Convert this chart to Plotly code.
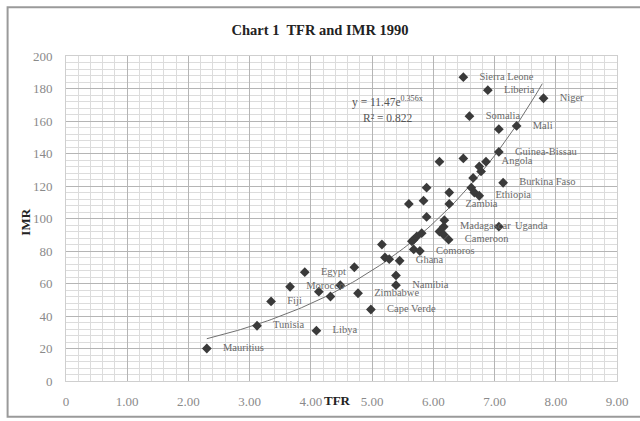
import numpy as np
import plotly.graph_objects as go

# Data (TFR, IMR)
tfr = [2.30, 3.12, 3.35, 3.66, 3.90, 4.13, 4.32, 4.48, 4.71, 4.77, 4.98, 4.09,
       5.16, 5.21, 5.28, 5.45, 5.39, 5.39, 5.68, 5.68, 5.78, 5.65, 5.73, 5.81,
       6.10, 6.25, 6.17, 6.18, 5.89, 5.60, 6.26, 5.84, 5.89, 6.26, 6.62, 6.67,
       6.75, 7.14, 6.65, 6.78, 6.75, 6.86, 6.10, 6.49, 7.07, 7.07, 7.36, 6.59,
       7.80, 6.89, 6.49, 7.07, 6.17]
imr = [20, 34, 49, 58, 67, 55, 52, 59, 70, 54, 44, 31,
       84, 76, 75, 74, 65, 59, 87, 81, 80, 86, 89, 91,
       92, 87, 95, 99, 101, 109, 109, 111, 119, 116, 119, 116,
       114, 122, 125, 129, 132, 135, 135, 137, 141, 155, 157, 163,
       174, 179, 187, 95, 90]
names = ["Mauritius", "Tunisia", "Fiji", "Morocco", "Egypt", "", "", "", "", "Zimbabwe", "Cape Verde", "Libya",
         "", "", "", "Ghana", "", "Namibia", "", "", "Comoros", "", "", "",
         "", "Cameroon", "Madagascar", "", "", "", "Zambia", "", "", "", "", "",
         "Ethiopia", "Burkina Faso", "", "", "", "Angola", "", "", "Guinea-Bissau", "", "Mali", "Somalia",
         "Niger", "Liberia", "Sierra Leone", "Uganda", ""]

# Exponential trendline as printed on the chart
trend_a = 11.47
trend_b = 0.356
trend_r2 = 0.822

x_ticks = [0, 1, 2, 3, 4, 5, 6, 7, 8, 9]
x_tick_text = ["0", "1.00", "2.00", "3.00", "4.00", "5.00", "6.00", "7.00", "8.00", "9.00"]
y_ticks = list(range(0, 201, 20))

serif = "Liberation Serif, Times New Roman, serif"

fig = go.Figure()

tx = np.linspace(min(tfr), 7.78, 100)
fig.add_trace(go.Scatter(x=tx, y=trend_a * np.exp(trend_b * tx), mode="lines",
                         line=dict(color="#707070", width=1), hoverinfo="skip",
                         showlegend=False))

fig.add_trace(go.Scatter(
    x=tfr, y=imr, mode="markers+text",
    text=["    " + n if n else "" for n in names],
    textposition="middle right",
    textfont=dict(family=serif, size=10.5, color="#6a6a6a"),
    marker=dict(symbol="diamond", size=7.5, color="#3a3a3a"),
    showlegend=False))

fig.add_annotation(x=5.25, y=172, xref="x", yref="y", showarrow=False,
                   text=f"y = {trend_a}e<sup>{trend_b}x</sup>",
                   font=dict(family=serif, size=11.5, color="#555"))
fig.add_annotation(x=5.25, y=162, xref="x", yref="y", showarrow=False,
                   text=f"R² = {trend_r2}",
                   font=dict(family=serif, size=11.5, color="#555"))

# axis titles placed like the original
fig.add_annotation(x=0.493, y=-0.089, xref="paper", yref="paper", showarrow=False,
                   text="<b>TFR</b>", font=dict(family=serif, size=13, color="#222"))
fig.add_annotation(x=-0.09, y=0.49, xref="paper", yref="paper", showarrow=False,
                   textangle=-90,
                   text="<b>IMR</b>", font=dict(family=serif, size=13, color="#222"))

fig.add_shape(type="rect", xref="paper", yref="paper",
              x0=-0.106, x1=1.06, y0=-0.110, y1=1.150,
              line=dict(color="#9a9a9a", width=2), layer="below")

fig.update_layout(
    width=640, height=421,
    margin=dict(l=66, r=18, t=56, b=38),
    paper_bgcolor="white", plot_bgcolor="white",
    title=dict(text="<b>Chart 1  TFR and IMR 1990</b>", x=0.5, xanchor="center",
               y=0.929, yanchor="middle",
               font=dict(family=serif, size=14.5, color="#222")),
    font=dict(family=serif, color="#777"),
)
fig.update_xaxes(range=[0, 9], tickvals=x_ticks, ticktext=x_tick_text,
                 tickfont=dict(family=serif, size=13, color="#8a8a8a"),
                 showgrid=True, gridcolor="#b5b5b5", gridwidth=1,
                 minor=dict(dtick=0.2, showgrid=True, gridcolor="#dcdcdc", gridwidth=1),
                 showline=True, linecolor="#cfcfcf", mirror=True,
                 zeroline=False, ticks="", ticklabelstandoff=8)
fig.update_yaxes(range=[0, 200], tickvals=y_ticks,
                 tickfont=dict(family=serif, size=13, color="#8a8a8a"),
                 showgrid=True, gridcolor="#b5b5b5", gridwidth=1,
                 minor=dict(dtick=4, showgrid=True, gridcolor="#dcdcdc", gridwidth=1),
                 showline=True, linecolor="#cfcfcf", mirror=True,
                 zeroline=False, ticks="", ticklabelstandoff=10)

fig.write_html("out.html", config={"displayModeBar": False},
               post_script="document.body.style.margin='0px';")
